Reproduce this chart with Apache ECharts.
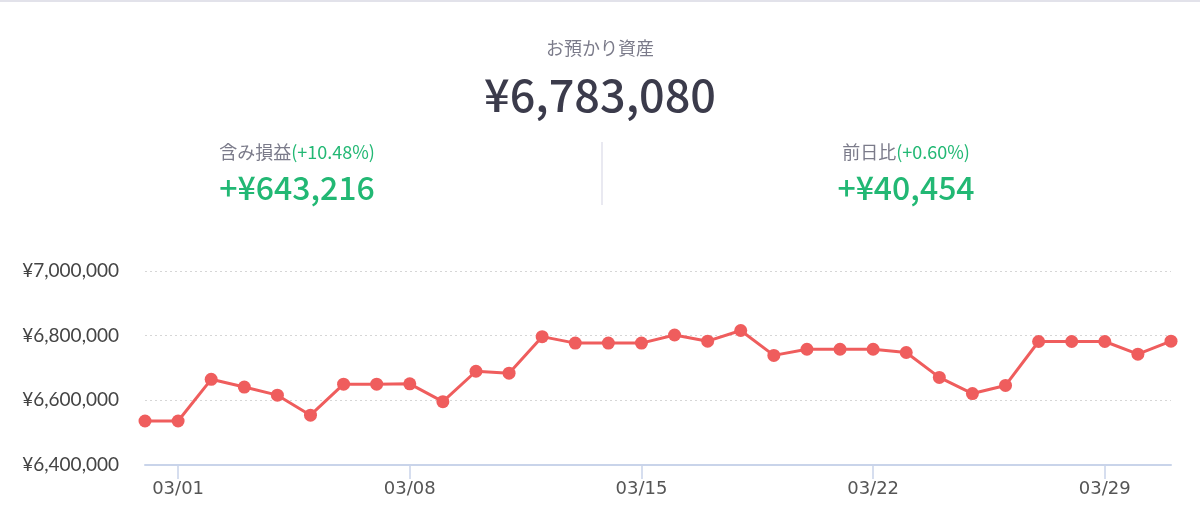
<!DOCTYPE html>
<html>
<head>
<meta charset="utf-8">
<script src="https://cdn.jsdelivr.net/npm/echarts@6/dist/echarts.min.js"></script>
<style>
  html, body { margin: 0; padding: 0; background: #fff; }
  #chart { width: 1200px; height: 530px; }
</style>
</head>
<body>
<div id="chart"></div>
<script>
// ---- data ----
const dates = ['02/28','03/01','03/02','03/03','03/04','03/05','03/06','03/07','03/08','03/09',
  '03/10','03/11','03/12','03/13','03/14','03/15','03/16','03/17','03/18','03/19','03/20',
  '03/21','03/22','03/23','03/24','03/25','03/26','03/27','03/28','03/29','03/30','03/31'];
const assets = [6536000, 6536000, 6665000, 6641000, 6616000, 6554000, 6650000, 6650000, 6651000, 6596000,
  6690000, 6684000, 6797000, 6777000, 6777000, 6777000, 6802000, 6783000, 6816000, 6739000, 6758000,
  6758000, 6758000, 6748000, 6671000, 6621000, 6646000, 6782000, 6782000, 6782000, 6742626, 6783080];
const yTicks = [6400000, 6600000, 6800000, 7000000];
const headerTitle = 'お預かり資産';
const headerTotal = '¥6,783,080';
const gainLabel = '含み損益';
const gainPct = '(+10.48%)';
const gainValue = '+¥643,216';
const dayLabel = '前日比';
const dayPct = '(+0.60%)';
const dayValue = '+¥40,454';

const GREEN = '#22b874';
const GRAY = '#7b7b8a';
const CJK = '"Noto Sans CJK JP", "Noto Sans", sans-serif';

const chart = echarts.init(document.getElementById('chart'), null, { renderer: 'canvas' });

function fmtYen(v) {
  return '¥' + String(v).replace(/\B(?=(\d{3})+(?!\d))/g, ',');
}
const labelEvery = (i) => (i - 1) % 7 === 0;

chart.setOption({
  backgroundColor: '#ffffff',
  animation: false,
  graphic: [
    { type: 'rect', shape: { x: 0, y: 0, width: 1200, height: 2 }, style: { fill: '#e2e2ea' } },
    { type: 'text', x: 600, y: 48, style: { text: headerTitle, fill: GRAY, font: '18px ' + CJK, textAlign: 'center', textVerticalAlign: 'middle' } },
    { type: 'text', x: 600, y: 95, style: { text: headerTotal, fill: '#3b3b4b', font: '500 45px ' + CJK, textAlign: 'center', textVerticalAlign: 'middle' } },
    { type: 'text', x: 297, y: 152, style: {
        text: '{a|' + gainLabel + '}{b|' + gainPct + '}', textAlign: 'center', textVerticalAlign: 'middle',
        rich: { a: { fill: GRAY, font: '18px ' + CJK }, b: { fill: GREEN, font: '18px ' + CJK } } } },
    { type: 'text', x: 297, y: 188, style: { text: gainValue, fill: GREEN, font: '500 32px ' + CJK, textAlign: 'center', textVerticalAlign: 'middle' } },
    { type: 'text', x: 906, y: 152, style: {
        text: '{a|' + dayLabel + '}{b|' + dayPct + '}', textAlign: 'center', textVerticalAlign: 'middle',
        rich: { a: { fill: GRAY, font: '18px ' + CJK }, b: { fill: GREEN, font: '18px ' + CJK } } } },
    { type: 'text', x: 906, y: 188, style: { text: dayValue, fill: GREEN, font: '500 32px ' + CJK, textAlign: 'center', textVerticalAlign: 'middle' } },
    { type: 'line', shape: { x1: 602, y1: 142, x2: 602, y2: 205 }, style: { stroke: '#e2e2ec', lineWidth: 1.5 } }
  ],
  grid: { left: 145, right: 29, top: 271, bottom: 65, containLabel: false },
  xAxis: {
    type: 'category',
    data: dates,
    boundaryGap: false,
    axisLine: { lineStyle: { color: '#c9d4ea', width: 2 } },
    axisTick: { show: true, interval: labelEvery, length: 14, lineStyle: { color: '#c9d4ea', width: 1.5 } },
    axisLabel: { interval: labelEvery, color: '#555', fontSize: 18, fontFamily: 'DejaVu Sans', margin: 15 },
    splitLine: { show: false }
  },
  yAxis: {
    type: 'value',
    min: yTicks[0],
    max: yTicks[yTicks.length - 1],
    interval: 200000,
    axisLine: { show: false },
    axisTick: { show: false },
    axisLabel: { formatter: fmtYen, color: '#444', fontSize: 19, fontFamily: 'Lato', margin: 26 },
    splitLine: { show: true, lineStyle: { color: '#d6d6d6', type: [2, 3], width: 1 } }
  },
  series: [{
    type: 'line',
    data: assets,
    symbol: 'circle',
    symbolSize: 13,
    showAllSymbol: true,
    lineStyle: { color: '#ef5d5d', width: 3 },
    itemStyle: { color: '#ef5d5d' }
  }]
});
</script>
</body>
</html>
